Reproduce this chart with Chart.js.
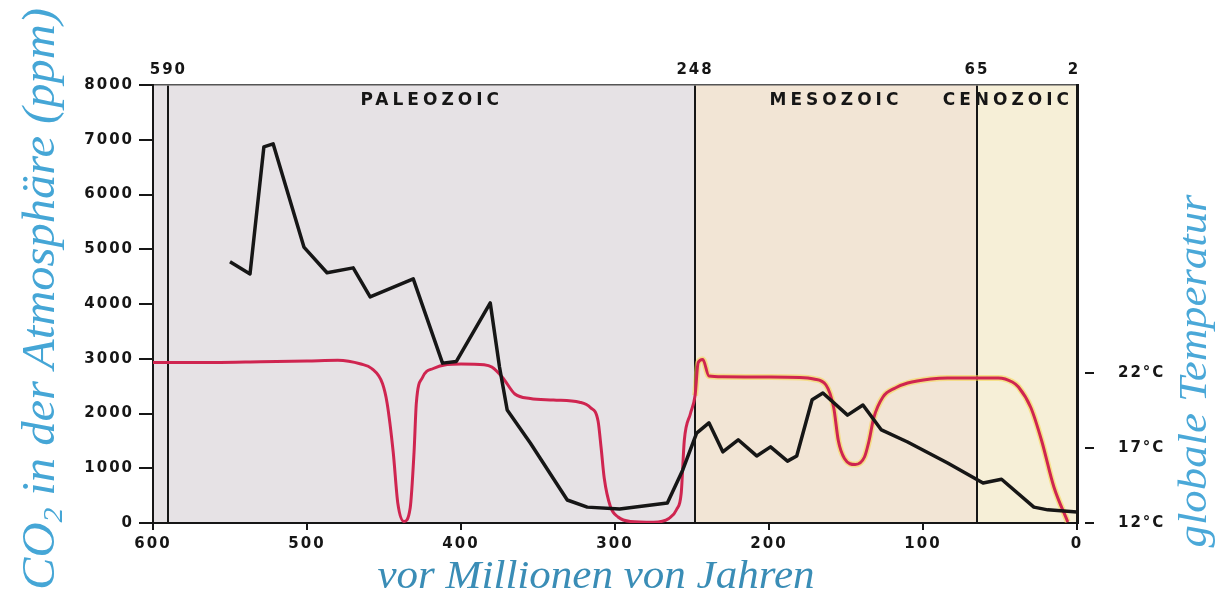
<!DOCTYPE html>
<html>
<head>
<meta charset="utf-8">
<script src="https://cdn.jsdelivr.net/npm/chart.js@4.4.1/dist/chart.umd.min.js"></script>
<style>
  body { margin: 0; background: #fff; }
</style>
</head>
<body>
<canvas id="chart" width="1220" height="600"></canvas>
<script>
// CO2 (ppm) against age (million years ago)
const co2Age = [550, 537, 528, 522, 502, 487, 470, 459, 431, 412, 403, 381, 375, 370, 355, 331, 318, 297, 266, 256, 247, 239, 230, 220, 208, 199, 188, 182, 172, 165, 149, 139, 127, 110, 84, 61, 49, 28, 19, 0];
const co2Ppm = [4770, 4550, 6870, 6925, 5040, 4570, 4660, 4130, 4460, 2920, 2950, 4020, 2850, 2065, 1460, 420, 290, 255, 365, 970, 1640, 1830, 1300, 1520, 1225, 1390, 1130, 1225, 2250, 2375, 1970, 2155, 1700, 1480, 1096, 730, 800, 290, 240, 200];

// global temperature (°C) against age
const tempAge = [600, 560, 530, 500, 480, 465, 458, 451, 448, 444, 441, 437, 433, 430.5, 429, 425, 418, 400, 385, 380, 373, 365, 355, 340, 323, 316, 311, 309, 307, 303, 298, 290, 275, 265, 260, 257, 255, 251, 248, 246, 243, 239, 230, 204, 180, 171, 163, 158, 155, 151, 144, 138, 135, 132, 126, 118, 110, 95, 84, 51, 42, 38, 30, 23, 15, 6];
const tempC = [22.7, 22.7, 22.75, 22.8, 22.85, 22.6, 22.3, 21.3, 20.0, 16.7, 13.3, 12.1, 13.0, 16.7, 20.0, 21.7, 22.3, 22.6, 22.55, 22.4, 21.7, 20.6, 20.3, 20.2, 20.05, 19.7, 18.8, 17.0, 15.0, 13.1, 12.4, 12.1, 12.05, 12.3, 12.9, 14.0, 17.5, 19.3, 20.5, 22.7, 22.9, 21.8, 21.75, 21.73, 21.7, 21.6, 21.2, 19.7, 17.5, 16.3, 15.9, 16.4, 17.5, 19.0, 20.4, 21.0, 21.33, 21.6, 21.67, 21.67, 21.4, 21.07, 19.7, 17.5, 14.4, 12.07];

// eras
const eraNames = ['PALEOZOIC', 'MESOZOIC', 'CENOZOIC'];
const eraStart = [590, 248, 65];
const eraEnd = [248, 65, 0];
const eraFill = ['#e6e2e5', '#f2e5d5', '#f6efd7'];

const topTicks = [590, 248, 65, 2];
const tempTicks = [12, 17, 22];

const co2Points = co2Age.map((a, i) => ({ x: a, y: co2Ppm[i] }));
const tempPoints = tempAge.map((a, i) => ({ x: a, y: tempC[i] }));

const tickFont = { family: 'DejaVu Sans', weight: 'bold', size: 15 };
const ink = '#161616';

function drawTitle(ctx, parts, cx, cy, length, angle) {
  ctx.save();
  ctx.translate(cx, cy);
  ctx.rotate(angle);
  let w = 0;
  parts.forEach(p => {
    ctx.font = `italic ${p.size}px "Liberation Serif"`;
    p.w = ctx.measureText(p.text).width;
    w += p.w;
  });
  ctx.scale(length / w, 1);
  let pos = -w / 2;
  parts.forEach(p => {
    ctx.font = `italic ${p.size}px "Liberation Serif"`;
    ctx.fillText(p.text, pos, p.dy || 0);
    pos += p.w;
  });
  ctx.restore();
}

const decor = {
  id: 'decor',
  beforeDraw(chart) {
    const { ctx, chartArea: a, scales: { x } } = chart;
    ctx.save();
    ctx.fillStyle = eraFill[0];
    ctx.fillRect(a.left, a.top, a.right - a.left, a.bottom - a.top);
    eraNames.forEach((name, i) => {
      const x0 = x.getPixelForValue(eraStart[i]);
      const x1 = x.getPixelForValue(eraEnd[i]);
      ctx.fillStyle = eraFill[i];
      ctx.fillRect(x0, a.top, x1 - x0, a.bottom - a.top);
    });
    ctx.fillStyle = ink;
    ctx.font = 'bold 17px "DejaVu Sans"';
    ctx.letterSpacing = '4px';
    ctx.textAlign = 'center';
    ctx.textBaseline = 'middle';
    eraNames.forEach((name, i) => {
      const w = ctx.measureText(name).width;
      let cx = (x.getPixelForValue(eraStart[i]) + x.getPixelForValue(eraEnd[i])) / 2;
      cx = Math.min(cx, a.right - 4 - w / 2);
      ctx.fillText(name, cx, a.top + 16);
    });
    ctx.restore();
    ctx.letterSpacing = '2px';
  },
  afterDraw(chart) {
    const { ctx, scales: { y1 } } = chart;
    ctx.save();
    ctx.letterSpacing = '0px';
    ctx.strokeStyle = ink;
    ctx.lineWidth = 2;
    tempTicks.forEach(v => {
      const py = y1.getPixelForValue(v);
      ctx.beginPath();
      ctx.moveTo(y1.left + 8, py);
      ctx.lineTo(y1.left + 17, py);
      ctx.stroke();
    });
    ctx.textAlign = 'left';
    ctx.textBaseline = 'alphabetic';
    ctx.fillStyle = '#45a6d6';
    drawTitle(ctx, [
      { text: 'CO', size: 46 },
      { text: '2', size: 28, dy: 8 },
      { text: ' in der Atmosphäre (ppm)', size: 46 }
    ], 54, 299, 582, -Math.PI / 2);
    ctx.fillStyle = '#4aa8d8';
    drawTitle(ctx, [{ text: 'globale Temperatur', size: 40 }], 1206, 371, 353, -Math.PI / 2);
    ctx.fillStyle = '#3a8db6';
    drawTitle(ctx, [{ text: 'vor Millionen von Jahren', size: 40 }], 596, 588, 437, 0);
    ctx.restore();
  }
};

new Chart(document.getElementById('chart'), {
  type: 'line',
  data: {
    datasets: [
      {
        label: 'halo',
        data: tempPoints,
        yAxisID: 'y1',
        order: 3,
        borderColor: 'rgba(0,0,0,0)',
        borderWidth: 6,
        pointRadius: 0,
        cubicInterpolationMode: 'monotone',
        segment: {
          borderColor: c => c.p0.parsed.x <= 248 ? 'rgba(245,214,72,0.55)' : 'rgba(0,0,0,0)'
        }
      },
      {
        label: 'Temperatur',
        data: tempPoints,
        yAxisID: 'y1',
        order: 2,
        borderColor: '#cf2550',
        borderWidth: 3,
        pointRadius: 0,
        cubicInterpolationMode: 'monotone'
      },
      {
        label: 'CO2',
        data: co2Points,
        yAxisID: 'y',
        order: 1,
        borderColor: ink,
        borderWidth: 3.5,
        borderJoinStyle: 'round',
        pointRadius: 0,
        tension: 0
      }
    ]
  },
  options: {
    responsive: false,
    animation: false,
    layout: { padding: 0 },
    plugins: {
      legend: { display: false },
      tooltip: { enabled: false }
    },
    scales: {
      x: {
        type: 'linear',
        position: 'bottom',
        reverse: true,
        min: 0,
        max: 600,
        afterFit: s => { s.height = 77; },
        ticks: { stepSize: 100, color: ink, font: tickFont, padding: 5, callback: v => String(v) },
        grid: { drawOnChartArea: false, tickLength: 7, color: ink, lineWidth: 2 },
        border: { color: ink, width: 2 }
      },
      xTop: {
        type: 'linear',
        position: 'top',
        reverse: true,
        min: 0,
        max: 600,
        afterFit: s => { s.height = 85; },
        afterBuildTicks: s => { s.ticks = topTicks.map(v => ({ value: v })); },
        ticks: { color: ink, font: tickFont, padding: 6, autoSkip: false, maxRotation: 0, callback: v => String(v) },
        grid: {
          drawTicks: false,
          lineWidth: 2,
          color: c => (c.tick && c.tick.value === 2) ? 'rgba(0,0,0,0)' : ink
        },
        border: { color: '#555', width: 1.5 }
      },
      y: {
        type: 'linear',
        position: 'left',
        min: 0,
        max: 8000,
        afterFit: s => { s.width = 153; },
        ticks: { stepSize: 1000, color: ink, font: tickFont, padding: 5, callback: v => String(v) },
        grid: { drawOnChartArea: false, tickLength: 14, color: ink, lineWidth: 2 },
        border: { color: ink, width: 2 }
      },
      y1: {
        type: 'linear',
        position: 'right',
        min: 12,
        max: 41.2,
        afterFit: s => { s.width = 143; },
        afterBuildTicks: s => { s.ticks = tempTicks.map(v => ({ value: v })); },
        ticks: { color: ink, font: tickFont, padding: 33, callback: v => v + '°C' },
        grid: { display: false },
        border: { color: ink, width: 3 }
      }
    }
  },
  plugins: [decor]
});
</script>
</body>
</html>
